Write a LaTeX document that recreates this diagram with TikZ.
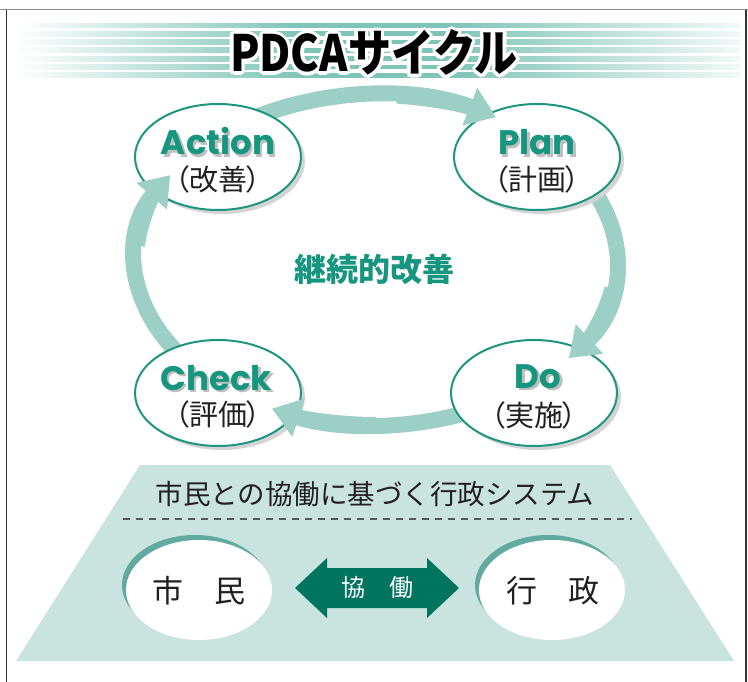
\documentclass[tikz,border=0pt]{standalone}
\usepackage{graphicx}
\usepackage{fontspec}
\setmainfont{Noto Sans CJK JP}
\newfontfamily\jp{Noto Sans CJK JP}
\newfontfamily\jpp{Noto Sans CJK JP}[RawFeature=+palt]
\newfontfamily\en{Poppins}
\usetikzlibrary{shapes.geometric,arrows.meta,calc}
\definecolor{stripe}{HTML}{7FC4B8}
\definecolor{arrowc}{HTML}{9CCFC6}
\definecolor{tealtx}{HTML}{17967F}
\definecolor{tealbd}{HTML}{1E9580}
\definecolor{trap}{HTML}{C9E4DF}
\definecolor{crescent}{HTML}{62AAA0}
\definecolor{dgreen}{HTML}{00745F}
\definecolor{shadowgray}{HTML}{D4D4D4}
\definecolor{frameg}{HTML}{8C8C8C}
\definecolor{framek}{HTML}{333333}
\definecolor{txtk}{HTML}{231F20}
\definecolor{dashc}{HTML}{555555}
\tikzset{
  bubble/.style={ellipse, draw=tealbd, line width=2pt, fill=white, minimum width=166pt, minimum height=106pt, inner sep=0pt},
  bubshadow/.style={ellipse, fill=shadowgray, minimum width=166pt, minimum height=106pt, inner sep=0pt},
  entitle/.style={font=\en\bfseries\fontsize{34}{34}\selectfont, text=tealtx, inner sep=0pt, anchor=base},
  enshadow/.style={entitle, text=black!25},
  jpsub/.style={font=\jpp\fontsize{29}{29}\selectfont, text=txtk, inner sep=0pt},
  cyc/.style={draw=arrowc, line width=16pt, -{Triangle[length=28pt 0 0, width=38pt 0 0]}},
  titlefont/.style={font=\jp\bfseries\fontsize{50}{50}\selectfont, inner sep=0pt, anchor=base},
  stripeband/.style={line width=0pt},
  oval/.style={ellipse, fill=white, minimum width=146pt, minimum height=100pt, inner sep=0pt},
  ovalshadow/.style={ellipse, fill=crescent, minimum width=146pt, minimum height=100pt, inner sep=0pt},
  ovaltext/.style={font=\jp\fontsize{31}{31}\selectfont, text=txtk, inner sep=0pt},
  dashline/.style={draw=dashc, line width=1.1pt, dash pattern=on 7pt off 6pt}
}
\newcommand\titletext{\scalebox{0.86}[1]{PDCAサイクル}}
\begin{document}
\begin{tikzpicture}[x=1pt,y=-1pt]
\useasboundingbox (0,0) rectangle (748,682);
\clip (0,0) rectangle (748,682);
% frame
\draw[frameg, line width=1.6pt] (0,9.6) -- (748,9.6);
\draw[framek, line width=1.4pt] (6.6,10) -- (6.6,682);
\draw[framek, line width=1.4pt] (745.8,10) -- (745.8,682);
% stripes
\foreach \yy in {25.5,33.8,42.1,50.4,58.7,67.0,75.3} {
  \shade[left color=white, right color=stripe] (15,\yy-2.4) rectangle (300.5,\yy+2.4);
  \fill[stripe] (300,\yy-2.4) rectangle (450.5,\yy+2.4);
  \shade[left color=stripe, right color=stripe!10] (450,\yy-2.4) rectangle (740,\yy+2.4);
}
% title with white outline
\foreach \a [count=\i] in {0,22.5,...,337.5} {
  \node[titlefont, text=white] (tw\i) at ($(374,72)+(\a:3.2)$) {\titletext};
}
\node[titlefont, text=black] (title) at (374,72) {\titletext};
% cycle
\coordinate (C) at (376,260);
\draw[cyc] ($(C)+(-125:240 and 165)$) arc[start angle=-125, end angle=-60, x radius=240, y radius=165];
\draw[cyc] ($(C)+(-30:240 and 165)$) arc[start angle=-30, end angle=36.5, x radius=240, y radius=165];
\draw[cyc] ($(C)+(65:240 and 165)$) arc[start angle=65, end angle=115.7, x radius=240, y radius=165];
\draw[cyc] ($(C)+(145:240 and 165)$) arc[start angle=145, end angle=211, x radius=240, y radius=165];
% bubbles
\node[bubshadow] (actS) at (222,161) {};
\node[bubshadow] (plnS) at (541,161) {};
\node[bubshadow] (dooS) at (538,397) {};
\node[bubshadow] (chkS) at (222,397) {};
\node[bubble] (act) at (218,157) {};
\node[bubble] (pln) at (537,157) {};
\node[bubble] (doo) at (534,393) {};
\node[bubble] (chk) at (218,393) {};
% heads over target bubbles
\draw[cyc] ($(C)+(-85:240 and 165)$) arc[start angle=-85, end angle=-60, x radius=240, y radius=165];
\draw[cyc] ($(C)+(10:240 and 165)$) arc[start angle=10, end angle=36.5, x radius=240, y radius=165];
\draw[cyc] ($(C)+(90:240 and 165)$) arc[start angle=90, end angle=115.7, x radius=240, y radius=165];
\draw[cyc] ($(C)+(185:240 and 165)$) arc[start angle=185, end angle=211, x radius=240, y radius=165];
% bubble texts
\node[enshadow] (actTs) at (220.5,157.5) {Action};
\node[entitle] (actT) at (218,155) {Action};
\node[jpsub] (actJ) at (218,179) {（改善）};
\node[enshadow] (plnTs) at (539.5,157.5) {Plan};
\node[entitle] (plnT) at (537,155) {Plan};
\node[jpsub] (plnJ) at (537,179) {（計画）};
\node[enshadow] (dooTs) at (540.5,390.5) {Do};
\node[entitle] (dooT) at (538,388) {Do};
\node[jpsub] (dooJ) at (534,415) {（実施）};
\node[enshadow] (chkTs) at (218.5,392.5) {Check};
\node[entitle] (chkT) at (216,390) {Check};
\node[jpsub] (chkJ) at (218,414) {（評価）};
% centre
\node[font=\jp\bfseries\fontsize{32}{32}\selectfont, text=tealtx, inner sep=0pt] (kaizen) at (374,269) {継続的改善};
% bottom system
\fill[trap] (140,465) -- (610,465) -- (734,661) -- (16,661) -- cycle;
\node[font=\jp\fontsize{27.5}{27.5}\selectfont, text=txtk, inner sep=0pt] (sys) at (375,494) {市民との協働に基づく行政システム};
\coordinate (dl) at (123,519);
\coordinate (dr) at (632,519);
\draw[dashline] (dl) -- (dr);
\node[ovalshadow] (shiminS) at (195,585) {};
\node[oval] (shimin) at (199,590) {};
\node[ovaltext] (shiminT) at (199,591) {市\hspace{1em}民};
\node[ovalshadow] (gyoseiS) at (548,585) {};
\node[oval] (gyosei) at (552,590) {};
\node[ovaltext] (gyoseiT) at (553,591) {行\hspace{1em}政};
\fill[dgreen] (295,588) -- (327,558) -- (327,568) -- (427,568) -- (427,558) -- (459,588)
  -- (427,618) -- (427,608) -- (327,608) -- (327,618) -- cycle;
\node[font=\jp\fontsize{24}{24}\selectfont, text=white, inner sep=0pt] (kyodo) at (377,587) {協\hspace{1em}働};
\end{tikzpicture}
\end{document}
